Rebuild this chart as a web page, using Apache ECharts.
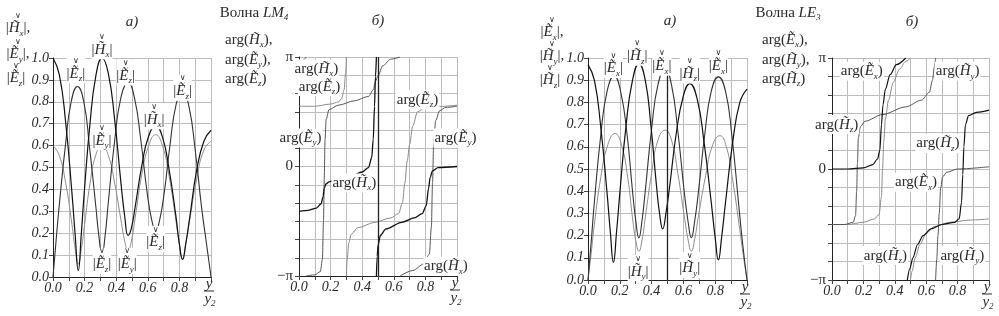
<!DOCTYPE html>
<html><head><meta charset="utf-8">
<script src="https://cdn.jsdelivr.net/npm/echarts/dist/echarts.min.js"></script>
<style>html,body{margin:0;padding:0;background:#fff}#c{width:999px;height:316px}</style>
</head><body><div id="c"></div>
<script>
// ---------- DATA ----------
// x axis: y / y2 ; tick labels
const xTickLabels = ['0.0','','0.2','','0.4','','0.6','','0.8','',''];
const magTickLabels = ['0.0','0.1','0.2','0.3','0.4','0.5','0.6','0.7','0.8','0.9','1.0'];
const phaseTickLabels = ['−π','','','','','','0','','','','','','π']; // -π .. π step π/6

// Wave LM4, magnitudes [y/y2, value]
const lm4AbsHx = [[0,1.0],[0.04,0.924],[0.08,0.707],[0.12,0.383],[0.14,0.195],[0.16,0.03],[0.179,0.195],[0.1975,0.383],[0.235,0.707],[0.2725,0.924],[0.31,1.0],[0.35,0.93],[0.39,0.72],[0.43,0.43],[0.455,0.27],[0.475,0.19],[0.495,0.22],[0.52,0.32],[0.5625,0.51],[0.606,0.645],[0.65,0.69],[0.6925,0.64],[0.735,0.49],[0.7775,0.28],[0.80,0.15],[0.82,0.08],[0.84,0.15],[0.865,0.27],[0.91,0.49],[0.955,0.62],[1.0,0.67]];
const lm4AbsEy = [[0,0.6],[0.04,0.555],[0.08,0.43],[0.12,0.24],[0.14,0.13],[0.16,0.06],[0.18,0.13],[0.20,0.24],[0.235,0.43],[0.27,0.555],[0.31,0.6],[0.35,0.555],[0.39,0.43],[0.43,0.26],[0.455,0.16],[0.475,0.12],[0.495,0.16],[0.52,0.27],[0.5625,0.47],[0.606,0.6],[0.65,0.65],[0.6925,0.6],[0.735,0.46],[0.7775,0.26],[0.80,0.15],[0.82,0.08],[0.84,0.15],[0.865,0.26],[0.91,0.45],[0.955,0.58],[1.0,0.62]];
const lm4AbsEz = [[0,0.0],[0.02,0.17],[0.04,0.33],[0.08,0.61],[0.115,0.80],[0.155,0.87],[0.195,0.80],[0.23,0.60],[0.27,0.33],[0.29,0.19],[0.31,0.10],[0.33,0.19],[0.35,0.34],[0.39,0.62],[0.43,0.82],[0.475,0.89],[0.515,0.82],[0.555,0.63],[0.595,0.39],[0.625,0.26],[0.65,0.21],[0.675,0.26],[0.705,0.39],[0.74,0.60],[0.78,0.79],[0.82,0.85],[0.86,0.78],[0.90,0.58],[0.94,0.32],[0.97,0.16],[1.0,0.0]];

// Wave LM4, phases [y/y2, arg/π], one sub-array per branch
const lm4ArgHx = [
  [[0,-0.41],[0.06,-0.40],[0.11,-0.38],[0.14,-0.34],[0.152,-0.28],[0.16,-0.2],[0.17,-0.16],[0.19,-0.14],[0.25,-0.12],[0.33,-0.09],[0.40,-0.05],[0.44,-0.01],[0.46,0.08],[0.47,0.25],[0.478,0.55],[0.484,0.82],[0.49,1.0]],
  [[0.49,-1.0],[0.495,-0.82],[0.50,-0.72],[0.515,-0.63],[0.55,-0.57],[0.65,-0.51],[0.73,-0.47],[0.78,-0.43],[0.805,-0.36],[0.82,-0.2],[0.83,-0.1],[0.845,-0.04],[0.88,-0.01],[1.0,0.0]]
];
const lm4ArgEy = [
  [[0,0.95],[0.025,0.97],[0.045,1.0]],
  [[0.045,-1.0],[0.1,-0.99],[0.135,-0.96],[0.148,-0.85],[0.155,-0.5],[0.16,-0.1],[0.165,0.25],[0.172,0.43],[0.19,0.52],[0.25,0.56],[0.35,0.6],[0.44,0.64],[0.47,0.7],[0.485,0.78],[0.5,0.83],[0.53,0.92],[0.58,0.98],[0.64,1.0]],
  [[0.64,-1.0],[0.72,-0.95],[0.79,-0.89],[0.825,-0.8],[0.838,-0.55],[0.845,-0.15],[0.852,0.2],[0.865,0.42],[0.89,0.51],[0.93,0.54],[1.0,0.55]]
];
const lm4ArgEz = [
  [[0,0.55],[0.1,0.55],[0.2,0.57],[0.25,0.59],[0.27,0.62],[0.285,0.7],[0.295,0.85],[0.30,1.0]],
  [[0.30,-1.0],[0.305,-0.85],[0.315,-0.7],[0.33,-0.62],[0.37,-0.56],[0.48,-0.51],[0.58,-0.47],[0.63,-0.43],[0.655,-0.33],[0.67,-0.15],[0.685,0.05],[0.70,0.2],[0.72,0.37],[0.75,0.5],[0.8,0.54],[1.0,0.56]]
];

// Wave LE3, magnitudes
const le3AbsEx = [[0,0.0],[0.02,0.17],[0.04,0.35],[0.08,0.65],[0.12,0.85],[0.165,0.92],[0.205,0.85],[0.245,0.66],[0.28,0.40],[0.30,0.27],[0.32,0.19],[0.34,0.27],[0.36,0.40],[0.40,0.68],[0.44,0.88],[0.485,0.95],[0.525,0.88],[0.565,0.67],[0.605,0.40],[0.63,0.26],[0.65,0.19],[0.67,0.26],[0.695,0.40],[0.735,0.66],[0.775,0.85],[0.82,0.915],[0.865,0.85],[0.905,0.65],[0.945,0.36],[0.97,0.18],[1.0,0.0]];
const le3AbsHy = [[0,0.0],[0.02,0.12],[0.04,0.25],[0.08,0.46],[0.125,0.61],[0.17,0.66],[0.21,0.61],[0.25,0.46],[0.28,0.28],[0.30,0.18],[0.32,0.13],[0.34,0.18],[0.36,0.28],[0.40,0.48],[0.44,0.63],[0.485,0.675],[0.525,0.63],[0.565,0.48],[0.605,0.29],[0.63,0.18],[0.65,0.13],[0.67,0.18],[0.695,0.29],[0.74,0.47],[0.785,0.61],[0.83,0.65],[0.87,0.60],[0.91,0.45],[0.95,0.25],[0.975,0.12],[1.0,0.0]];
const le3AbsHz = [[0,0.97],[0.04,0.90],[0.08,0.69],[0.12,0.39],[0.14,0.22],[0.16,0.08],[0.18,0.22],[0.20,0.39],[0.24,0.70],[0.28,0.90],[0.32,0.975],[0.36,0.90],[0.395,0.70],[0.43,0.43],[0.45,0.30],[0.47,0.23],[0.49,0.30],[0.515,0.43],[0.555,0.66],[0.6,0.83],[0.64,0.885],[0.685,0.82],[0.73,0.62],[0.775,0.35],[0.80,0.19],[0.82,0.09],[0.84,0.19],[0.865,0.35],[0.91,0.62],[0.955,0.80],[1.0,0.86]];

// Wave LE3, phases
const le3ArgEx = [
  [[0,0.0],[0.1,0.0],[0.2,0.01],[0.26,0.04],[0.29,0.09],[0.305,0.17],[0.315,0.4],[0.325,0.58],[0.34,0.72],[0.37,0.85],[0.41,0.94],[0.47,1.0]],
  [[0.48,-1.0],[0.495,-0.9],[0.515,-0.8],[0.545,-0.68],[0.58,-0.6],[0.63,-0.54],[0.7,-0.5],[0.78,-0.48],[0.81,-0.45],[0.825,-0.3],[0.833,-0.05],[0.84,0.2],[0.85,0.4],[0.87,0.48],[0.92,0.51],[1.0,0.53]]
];
const le3ArgHy = [
  [[0,-0.5],[0.1,-0.5],[0.2,-0.48],[0.27,-0.45],[0.3,-0.41],[0.315,-0.25],[0.322,0.0],[0.33,0.25],[0.34,0.45],[0.36,0.62],[0.39,0.78],[0.43,0.9],[0.47,0.97],[0.50,1.0]],
  [[0.50,-1.0],[0.51,-0.92],[0.53,-0.8],[0.56,-0.68],[0.6,-0.58],[0.65,-0.52],[0.75,-0.48],[0.88,-0.46],[1.0,-0.45]]
];
const le3ArgHz = [
  [[0,-0.5],[0.08,-0.5],[0.135,-0.48],[0.15,-0.42],[0.157,-0.2],[0.162,0.05],[0.168,0.28],[0.18,0.38],[0.21,0.43],[0.32,0.49],[0.47,0.56],[0.57,0.62],[0.62,0.69],[0.64,0.8],[0.652,0.92],[0.66,1.0]],
  [[0.66,-1.0],[0.667,-0.82],[0.675,-0.6],[0.683,-0.4],[0.692,-0.17],[0.705,-0.07],[0.73,-0.03],[0.8,0.0],[1.0,0.02]]
];

// ---------- CHART ----------
const FONT = "'Liberation Serif', 'DejaVu Serif', serif";
const TXT = '#2a2a2a';
const GRIDC = '#bcbcbc';
const chart = echarts.init(document.getElementById('c'), null, {renderer:'canvas'});

const grids = [
  {left:53, top:58, width:158, height:219},
  {left:299, top:57, width:158, height:219},
  {left:588, top:58, width:159, height:222},
  {left:832, top:58, width:157, height:222}
];
const isPhase = [false, true, false, true];

const xAxes = grids.map((g, i) => ({
  type:'value', gridIndex:i, min:0, max:1, interval:0.1,
  axisLine:{show:true, onZero:false, lineStyle:{color:'#222', width:1}},
  axisTick:{show:true, length:4, lineStyle:{color:'#444'}},
  splitLine:{show:true, lineStyle:{color:GRIDC, width:1}},
  axisLabel:{fontFamily:FONT, fontStyle:'italic', fontSize:14, color:TXT, margin:4,
    formatter:v => xTickLabels[Math.round(v*10)] || ''}
}));
const yAxes = grids.map((g, i) => isPhase[i] ? ({
  type:'value', gridIndex:i, min:-6, max:6, interval:1,
  axisLine:{show:true, onZero:false, lineStyle:{color:'#222'}},
  axisTick:{show:true, length:4, lineStyle:{color:'#444'}},
  splitLine:{show:true, lineStyle:{color:GRIDC}},
  axisLabel:{fontFamily:FONT, fontSize:15, color:TXT, margin:6,
    formatter:v => phaseTickLabels[Math.round(v)+6] || ''}
}) : ({
  type:'value', gridIndex:i, min:0, max:1, interval:0.1,
  axisLine:{show:true, onZero:false, lineStyle:{color:'#222'}},
  axisTick:{show:true, length:4, lineStyle:{color:'#444'}},
  splitLine:{show:true, lineStyle:{color:GRIDC}},
  axisLabel:{fontFamily:FONT, fontStyle:'italic', fontSize:14, color:TXT, margin:4,
    formatter:v => magTickLabels[Math.round(v*10)] || ''}
}));

const series = [];
function addMag(grid, data, color, width) {
  series.push({type:'line', xAxisIndex:grid, yAxisIndex:grid, data:data, showSymbol:false,
    smooth:0.5, lineStyle:{color, width}, silent:true, z:3});
}
function addPhase(grid, branches, color, width) {
  branches.forEach(b => series.push({type:'line', xAxisIndex:grid, yAxisIndex:grid,
    data:b.map(p => [p[0], p[1]*6]), showSymbol:false, smooth:0.3, smoothMonotone:'x',
    lineStyle:{color, width}, silent:true, z:3}));
}
addMag(0, lm4AbsEy, '#8c8c8c', 1);
addMag(0, lm4AbsEz, '#333', 1.1);
addMag(0, lm4AbsHx, '#111', 1.2);
addPhase(1, lm4ArgEz, '#8a8a8a', 1);
addPhase(1, lm4ArgEy, '#555', 1);
addPhase(1, lm4ArgHx, '#111', 1.3);
addMag(2, le3AbsHy, '#8c8c8c', 1);
addMag(2, le3AbsEx, '#333', 1.1);
addMag(2, le3AbsHz, '#111', 1.2);
addPhase(3, le3ArgHy, '#8a8a8a', 1);
addPhase(3, le3ArgHz, '#555', 1);
addPhase(3, le3ArgEx, '#111', 1.2);

// marker lines at y/y2 = 0.5 in panel б) of LM4 and а) of LE3
[1, 2].forEach(g => series.push({type:'line', xAxisIndex:g, yAxisIndex:g, data:[], silent:true,
  markLine:{silent:true, symbol:'none', animation:false, label:{show:false},
    lineStyle:{color:'#222', width:1.3, type:'solid'}, data:[{xAxis:0.5}]}}));

chart.setOption({animation:false, backgroundColor:'#fff', grid:grids, xAxis:xAxes, yAxis:yAxes, series});

// ---------- TEXT ----------
const R = {
  a:{fontFamily:'DejaVu Sans', fontSize:8, lineHeight:7, fill:TXT},
  n:{fontFamily:FONT, fontSize:15, lineHeight:17, fill:TXT},
  i:{fontFamily:FONT, fontStyle:'italic', fontSize:15, lineHeight:17, fill:TXT},
  s:{fontFamily:FONT, fontStyle:'italic', fontSize:9, lineHeight:19, verticalAlign:'bottom', fill:TXT}
};
const magTxt = (L, s, tail) => '{a|∨}\n{n||}{i|' + L + '\u0303}{s|' + s + '}{n||' + (tail||'') + '}';
const argTxt = (L, s, tail) => '{n|arg(}{i|' + L + '\u0303}{s|' + s + '}{n|)' + (tail||'') + '}';

const G = [];
function txt(x, y, text, extra) {
  G.push({type:'text', x, y, z:100, silent:true,
    style:Object.assign({text, rich:R, fill:TXT, align:'center', verticalAlign:'middle'}, extra||{})});
}
function magAt(x, cy, L, s, tail, bg) {
  txt(x, cy - 16, magTxt(L, s, tail), Object.assign({verticalAlign:'top'}, bg ? {backgroundColor:'#fff'} : {}));
}
function argAt(x, cy, L, s, tail, extra) {
  txt(x, cy, argTxt(L, s, tail), Object.assign({backgroundColor:'#fff', padding:[0,1]}, extra||{}));
}
const px = (g, x, y) => chart.convertToPixel({gridIndex:g}, [x, isPhase[g] ? y*6 : y]);

// titles
txt(254, 13, '{n|Волна }{i|LM}{s|4}');
txt(788, 13, '{n|Волна }{i|LE}{s|3}');
txt(132, 22, '{i|а)}');
txt(378, 21, '{i|б)}');
txt(670, 21, '{i|а)}');
txt(912, 22, '{i|б)}');

// axis titles
magAt(18, 28, 'H', 'x', ',');
magAt(18, 54, 'E', 'y', ',');
magAt(16, 78, 'E', 'z');
magAt(552, 32, 'E', 'x', ',');
magAt(552, 56, 'H', 'y', ',');
magAt(550, 80, 'H', 'z');
[[225,40,'H','x',','],[225,60,'E','y',','],[225,79,'E','z','']].forEach(a => txt(a[0], a[1], argTxt(a[2],a[3],a[4]), {align:'left'}));
[[762,40,'E','x',','],[762,60,'H','y',','],[762,79,'H','z','']].forEach(a => txt(a[0], a[1], argTxt(a[2],a[3],a[4]), {align:'left'}));

// fraction y / y2 at the end of every x axis
grids.forEach(g => {
  const cx = g.left + g.width - 2, by = g.top + g.height;
  txt(cx, by + 7, '{i|y}');
  G.push({type:'line', z:100, silent:true, shape:{x1:cx-5, y1:by+14, x2:cx+5, y2:by+14}, style:{stroke:TXT, lineWidth:1}});
  txt(cx + 1, by + 22, '{i|y}{s|2}');
});

// curve labels, LM4 magnitudes
let p;
p = px(0, 0.31, 1.04); magAt(p[0], p[1], 'H', 'x', '', true);
p = px(0, 0.145, 0.93); magAt(p[0], p[1], 'E', 'z', '', true);
p = px(0, 0.46, 0.92); magAt(p[0], p[1], 'E', 'z', '', true);
p = px(0, 0.64, 0.72); magAt(p[0], p[1], 'H', 'x', '', true);
p = px(0, 0.82, 0.85); magAt(p[0], p[1], 'E', 'z', '', true);
p = px(0, 0.31, 0.625); magAt(p[0], p[1], 'E', 'y', '', true);
p = px(0, 0.31, 0.06); magAt(p[0], p[1], 'E', 'z', '', true);
p = px(0, 0.47, 0.06); magAt(p[0], p[1], 'E', 'y', '', true);
p = px(0, 0.65, 0.16); magAt(p[0], p[1], 'E', 'z', '', true);
// LE3 magnitudes
p = px(2, 0.16, 0.955); magAt(p[0], p[1], 'E', 'x', '', true);
p = px(2, 0.31, 1.01); magAt(p[0], p[1], 'H', 'z', '', true);
p = px(2, 0.465, 0.965); magAt(p[0], p[1], 'E', 'x', '', true);
p = px(2, 0.64, 0.93); magAt(p[0], p[1], 'H', 'z', '', true);
p = px(2, 0.82, 0.965); magAt(p[0], p[1], 'E', 'x', '', true);
p = px(2, 0.315, 0.04); magAt(p[0], p[1], 'H', 'y', '', true);
p = px(2, 0.64, 0.054); magAt(p[0], p[1], 'H', 'y', '', true);
// LM4 phases
p = px(1, 0.11, 0.89); argAt(p[0], p[1], 'H', 'x');
p = px(1, 0.13, 0.73); argAt(p[0], p[1], 'E', 'z');
p = px(1, 0.75, 0.61); argAt(p[0], p[1], 'E', 'z');
p = px(1, 0.01, 0.26); argAt(p[0], p[1], 'E', 'y');
p = px(1, 0.99, 0.26); argAt(p[0], p[1], 'E', 'y');
p = px(1, 0.35, -0.15); argAt(p[0], p[1], 'H', 'x');
p = px(1, 0.93, -0.91); argAt(p[0], p[1], 'H', 'x');
// LE3 phases
p = px(3, 0.19, 0.88); argAt(p[0], p[1], 'E', 'x');
p = px(3, 0.80, 0.88); argAt(p[0], p[1], 'H', 'y');
p = px(3, 0.03, 0.40); argAt(p[0], p[1], 'H', 'z');
p = px(3, 0.675, 0.23); argAt(p[0], p[1], 'H', 'z');
p = px(3, 0.535, -0.12); argAt(p[0], p[1], 'E', 'x');
p = px(3, 0.34, -0.78); argAt(p[0], p[1], 'H', 'z');
p = px(3, 0.83, -0.78); argAt(p[0], p[1], 'H', 'y');

chart.setOption({graphic:{elements:G}});
</script></body></html>
